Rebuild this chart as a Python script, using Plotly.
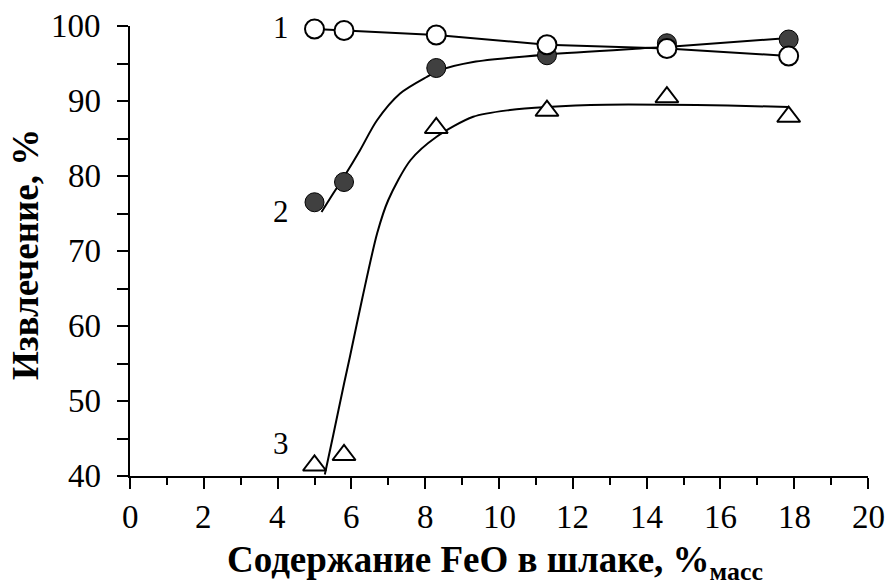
import plotly.graph_objects as go

# Data
x_pts = [5.0, 5.8, 8.3, 11.3, 14.55, 17.85]
s1_y = [99.6, 99.4, 98.8, 97.5, 97.0, 96.0]   # 1 - open circles
s2_y = [76.5, 79.2, 94.4, 96.1, 97.7, 98.2]   # 2 - filled circles
s3_y = [41.4, 42.8, 86.4, 88.7, 90.5, 87.9]   # 3 - open triangles

# Trend curves
t2_x = [5.19, 5.51, 5.8, 6.23, 6.69, 7.32, 8.04, 8.4, 9.3, 11.29, 13.82, 14.54, 17.85]
t2_y = [75.2, 77.7, 79.9, 83.4, 87.4, 91.0, 93.2, 94.1, 95.2, 96.2, 97.0, 97.2, 98.4]
t3_x = [5.28, 5.51, 5.8, 5.96, 6.3, 6.7, 7.0, 7.6, 8.3, 9.3, 10.3, 11.3, 12.9, 14.5, 16.2, 17.85]
t3_y = [40.2, 45.5, 52.3, 55.9, 63.8, 72.4, 76.8, 82.1, 85.2, 87.9, 88.8, 89.2, 89.5, 89.5, 89.4, 89.2]

labels = ["1", "2", "3"]
label_x = [4.09, 4.09, 4.09]
label_y = [99.8, 75.25, 44.4]

x_ticks = [0, 2, 4, 6, 8, 10, 12, 14, 16, 18, 20]
y_ticks = [40, 50, 60, 70, 80, 90, 100]
x_title = "<b>Содержание FeO в шлаке, %<sub>масс</sub></b>"
y_title = "<b>Извлечение, %</b>"

FONT = "serif"

fig = go.Figure()
fig.add_trace(go.Scatter(x=t3_x, y=t3_y, mode="lines", line=dict(color="black", width=2, shape="spline", smoothing=0.8),
                         hoverinfo="skip", cliponaxis=False))
fig.add_trace(go.Scatter(x=t2_x, y=t2_y, mode="lines", line=dict(color="black", width=2, shape="spline", smoothing=0.8),
                         hoverinfo="skip", cliponaxis=False))
fig.add_trace(go.Scatter(x=x_pts, y=s3_y, mode="markers",
                         marker=dict(symbol="triangle-up", size=20, color="white", line=dict(color="black", width=2)),
                         cliponaxis=False))
fig.add_trace(go.Scatter(x=x_pts, y=s2_y, mode="markers",
                         marker=dict(symbol="circle", size=19, color="#404040", line=dict(color="black", width=1)),
                         cliponaxis=False))
fig.add_trace(go.Scatter(x=x_pts, y=s1_y, mode="lines+markers", line=dict(color="black", width=2),
                         marker=dict(symbol="circle", size=19, color="white", line=dict(color="black", width=2)),
                         cliponaxis=False))

# series labels
for t, lx, ly in zip(labels, label_x, label_y):
    fig.add_annotation(x=lx, y=ly, text=t, showarrow=False,
                       font=dict(family=FONT, size=31, color="black"))

# tick labels (as text placed on the axes' scales)
for v in x_ticks:
    fig.add_annotation(x=v, xref="x", y=0, yref="paper", text=str(v), showarrow=False,
                       yanchor="middle", yshift=-41, font=dict(family=FONT, size=33, color="black"))
for v in y_ticks:
    fig.add_annotation(x=0, xref="paper", y=v, yref="y", text=str(v), showarrow=False,
                       xanchor="right", xshift=-27, font=dict(family=FONT, size=33, color="black"))

# axis titles
fig.add_annotation(x=0.495, xref="paper", y=0, yref="paper", text=x_title, showarrow=False,
                   yanchor="middle", yshift=-86, font=dict(family=FONT, size=37, color="black"))
fig.add_annotation(x=0, xref="paper", y=0.491, yref="paper", text=y_title, showarrow=False,
                   textangle=-90, xanchor="center", xshift=-105, font=dict(family=FONT, size=37, color="black"))

fig.update_layout(
    template="none",
    width=889, height=582,
    margin=dict(l=130, r=21, t=26, b=106),
    paper_bgcolor="white", plot_bgcolor="white",
    showlegend=False,
    font=dict(family=FONT, color="black"),
)
fig.update_xaxes(range=[0, 20], dtick=2, tick0=0, showgrid=False, zeroline=False, automargin=False,
                 showline=True, linecolor="black", linewidth=2, showticklabels=False,
                 ticks="outside", ticklen=11, tickwidth=2, tickcolor="black",
                 minor=dict(dtick=1, ticks="outside", ticklen=7, tickwidth=2, tickcolor="black", showgrid=False))
fig.update_yaxes(range=[40, 100], dtick=10, tick0=40, showgrid=False, zeroline=False, automargin=False,
                 showline=True, linecolor="black", linewidth=2, showticklabels=False,
                 ticks="outside", ticklen=11, tickwidth=2, tickcolor="black",
                 minor=dict(dtick=5, ticks="outside", ticklen=11, tickwidth=2, tickcolor="black", showgrid=False))

fig.write_html("out.html", config={"displayModeBar": False},
               post_script="document.body.style.margin='0';")
